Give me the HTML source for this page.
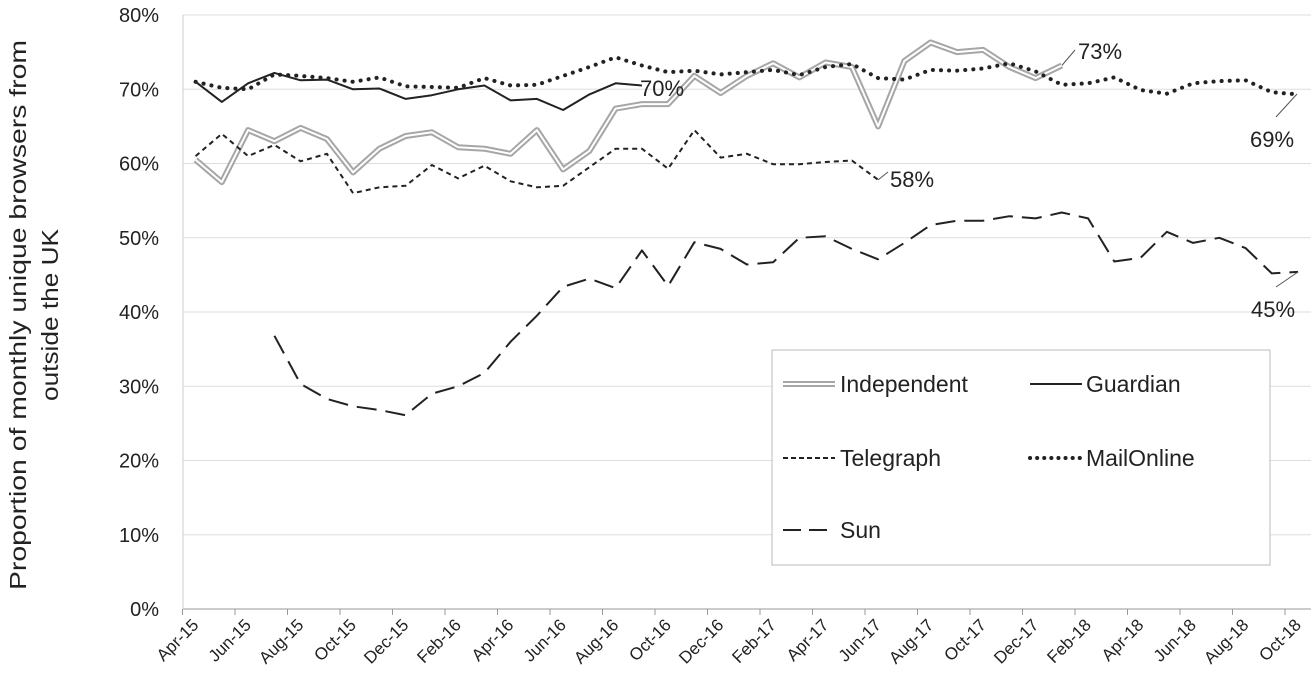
<!DOCTYPE html>
<html><head><meta charset="utf-8"><style>
body{margin:0;background:#fff;}
svg text{font-family:"Liberation Sans",sans-serif;fill:#222;}
</style></head><body>
<svg id="c" width="1316" height="684" xmlns="http://www.w3.org/2000/svg"></svg>
<script>
const s=document.getElementById('c');
let h='';
const Y=v=>609-v*7.425, X=i=>195.6+26.25*i;
for(let v=10;v<=80;v+=10)h+=`<line x1="183" x2="1311" y1="${Y(v)}" y2="${Y(v)}" stroke="#ddd" stroke-width="1"/>`;
for(let v=0;v<=80;v+=10)h+=`<text x="159" y="${Y(v)+7}" font-size="20" text-anchor="end">${v}%</text>`;
h+=`<line x1="183" x2="1311" y1="609" y2="609" stroke="#999"/><line x1="183" x2="183" y1="15" y2="609" stroke="#ccc"/>`;
const lab=['Apr-15','Jun-15','Aug-15','Oct-15','Dec-15','Feb-16','Apr-16','Jun-16','Aug-16','Oct-16','Dec-16','Feb-17','Apr-17','Jun-17','Aug-17','Oct-17','Dec-17','Feb-18','Apr-18','Jun-18','Aug-18','Oct-18'];
for(let k=0;k<=21;k++){const tx=182.5+52.5*k;h+=`<line x1="${tx}" x2="${tx}" y1="609" y2="615" stroke="#999"/>`;
const lx=X(2*k)+4,ly=626;h+=`<text transform="translate(${lx},${ly}) rotate(-45)" font-size="17" text-anchor="end">${lab[k]}</text>`;}
h+=`<text transform="translate(26,315) rotate(-90)" font-size="23" text-anchor="middle" textLength="550" lengthAdjust="spacingAndGlyphs">Proportion of monthly unique browsers from</text>`;
h+=`<text transform="translate(58,315) rotate(-90)" font-size="23" text-anchor="middle" textLength="172" lengthAdjust="spacingAndGlyphs">outside the UK</text>`;
const pts=(a,st)=>a.map((v,i)=>`${X(i+st).toFixed(1)},${Y(v).toFixed(1)}`).join(' ');
const ind=[60.5,57.5,64.5,63,64.8,63.3,58.8,62,63.7,64.2,62.2,62,61.3,64.5,59.2,61.7,67.4,68,68,71.8,69.5,71.8,73.5,71.6,73.6,73,65,73.8,76.3,75,75.3,73,71.5,73.2];
const gua=[71,68.3,70.8,72.2,71.2,71.3,70,70.1,68.7,69.2,70,70.5,68.5,68.7,67.2,69.3,70.8,70.5];
const tel=[61,64,61,62.5,60.3,61.3,56,56.8,57,59.8,58,59.7,57.6,56.8,57,59.5,62,62,59.3,64.5,60.8,61.3,59.9,59.9,60.2,60.4,57.8];
const mail=[71,70.2,70,72,71.8,71.5,71,71.6,70.4,70.3,70.2,71.5,70.5,70.6,71.8,73,74.3,73.2,72.3,72.5,72,72.3,72.6,71.9,73,73.4,71.5,71.3,72.6,72.5,72.8,73.5,72.4,70.6,70.8,71.6,69.9,69.4,70.8,71.1,71.2,69.6,69.3];
const sun=[36.8,30.3,28.3,27.3,26.8,26.1,29,30,31.8,36,39.5,43.4,44.5,43.2,48.3,43.5,49.4,48.5,46.4,46.7,50,50.2,48.5,47.1,49.3,51.7,52.3,52.3,52.9,52.6,53.4,52.6,46.8,47.3,50.8,49.3,50,48.6,45.2,45.4];
const pl=(p,a)=>`<polyline points="${p}" fill="none" stroke-linejoin="round" ${a}/>`;
h+=pl(pts(ind,0),'stroke="#a6a6a6" stroke-width="6"')+pl(pts(ind,0),'stroke="#fff" stroke-width="2"');
h+=pl(pts(gua,0),'stroke="#222" stroke-width="2"');
h+=pl(pts(tel,0),'stroke="#222" stroke-width="2" stroke-dasharray="5,4"');
h+=pl(pts(mail,0),'stroke="#222" stroke-width="4" stroke-dasharray="0.1,8" stroke-linecap="round"');
h+=pl(pts(sun,3),'stroke="#222" stroke-width="2" stroke-dasharray="20,9"');
h+=`<text x="640" y="96" font-size="22">70%</text>`;
h+=`<line x1="${X(33)}" y1="${Y(73.2)}" x2="1075" y2="50" stroke="#555"/><text x="1078" y="59" font-size="22">73%</text>`;
h+=`<line x1="${X(26)}" y1="${Y(57.8)}" x2="888" y2="172" stroke="#555"/><text x="890" y="187" font-size="22">58%</text>`;
h+=`<line x1="1297" y1="94" x2="1276" y2="117" stroke="#555"/><text x="1250" y="147" font-size="22">69%</text>`;
h+=`<line x1="1298" y1="272" x2="1276" y2="287" stroke="#555"/><text x="1251" y="317" font-size="22">45%</text>`;
h+=`<rect x="772" y="350" width="498" height="215" fill="#fff" stroke="#bbb"/>`;
h+=`<line x1="783" x2="835" y1="384" y2="384" stroke="#a6a6a6" stroke-width="6"/><line x1="783" x2="835" y1="384" y2="384" stroke="#fff" stroke-width="2"/><text x="840" y="392" font-size="23">Independent</text>`;
h+=`<line x1="1030" x2="1082" y1="384" y2="384" stroke="#222" stroke-width="2"/><text x="1086" y="392" font-size="23">Guardian</text>`;
h+=`<line x1="783" x2="835" y1="458" y2="458" stroke="#222" stroke-width="2" stroke-dasharray="5,3"/><text x="840" y="466" font-size="23">Telegraph</text>`;
h+=`<line x1="1030" x2="1082" y1="458" y2="458" stroke="#222" stroke-width="4" stroke-dasharray="0.1,7" stroke-linecap="round"/><text x="1086" y="466" font-size="23">MailOnline</text>`;
h+=`<line x1="783" x2="835" y1="530" y2="530" stroke="#222" stroke-width="2" stroke-dasharray="18,8"/><text x="840" y="538" font-size="23">Sun</text>`;
s.innerHTML=h;
</script>
</body></html>
